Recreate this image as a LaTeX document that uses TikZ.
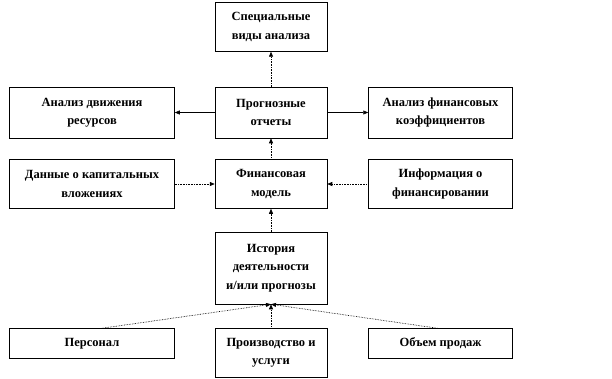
\documentclass[tikz,border=0pt]{standalone}
\usepackage{fontspec}
\setmainfont{Liberation Serif}
\usepackage{tikz}
\usetikzlibrary{arrows.meta, positioning}
\tikzset{
  fmbox/.style   = {rectangle, draw=black, line width=0.5pt, fill=white,
                    align=center, inner sep=2pt,
                    font=\fontsize{12.5}{18.5}\selectfont\bfseries},
  fmmid/.style   = {fmbox, minimum width=112pt, minimum height=49pt},
  fmleft/.style  = {fmbox, minimum width=165pt, minimum height=49pt},
  fmright/.style = {fmbox, minimum width=144pt, minimum height=49pt},
  fmarrow/.style = {-{Triangle[length=5pt,width=4pt]}, draw=black,
                    line width=0.6pt},
  fmdots/.style  = {fmarrow, densely dotted, line width=0.7pt},
}

\begin{document}
\begin{tikzpicture}[x=1pt, y=1pt]
  \useasboundingbox (0,0) rectangle (612,378);
  % central column
  \node[fmmid, minimum height=51pt] (forecast) at (271,265.5)
    {Прогнозные\\отчеты};
  \node[fmmid, above=35pt of forecast] (special)
    {Специальные\\виды анализа};
  \node[fmmid, below=21pt of forecast] (model)
    {Финансовая\\модель};
  \node[fmmid, minimum height=72pt, below=23pt of model] (history)
    {История\\деятельности\\и/или прогнозы};
  \node[fmmid, below=24pt of history] (production)
    {Производство и\\услуги};
  % side boxes
  \node[fmleft, minimum height=51pt, left=40pt of forecast] (resources)
    {Анализ движения\\ресурсов};
  \node[fmright, minimum height=51pt, right=41pt of forecast] (ratios)
    {Анализ финансовых\\коэффициентов};
  \node[fmleft, left=40pt of model] (capital)
    {Данные о капитальных\\вложениях};
  \node[fmright, right=41pt of model] (financing)
    {Информация о\\финансировании};
  \node[fmleft, minimum height=30pt, anchor=north east] (staff)
    at ([xshift=-40pt]production.north west) {Персонал};
  \node[fmright, minimum height=30pt, anchor=north west] (sales)
    at ([xshift=41pt]production.north east) {Объем продаж};
  % connectors
  \draw[fmdots] (forecast) -- (special);
  \draw[fmarrow] (forecast) -- (resources);
  \draw[fmarrow] (forecast) -- (ratios);
  \draw[fmdots] (model) -- (forecast);
  \draw[fmdots] (capital) -- (model);
  \draw[fmdots] (financing) -- (model);
  \draw[fmdots] (history) -- (model);
  \draw[fmdots] ([xshift=10pt]staff.north) -- (history.south);
  \draw[fmdots] (production) -- (history);
  \draw[fmdots] ([xshift=-3pt]sales.north) -- (history.south);
\end{tikzpicture}
\end{document}
